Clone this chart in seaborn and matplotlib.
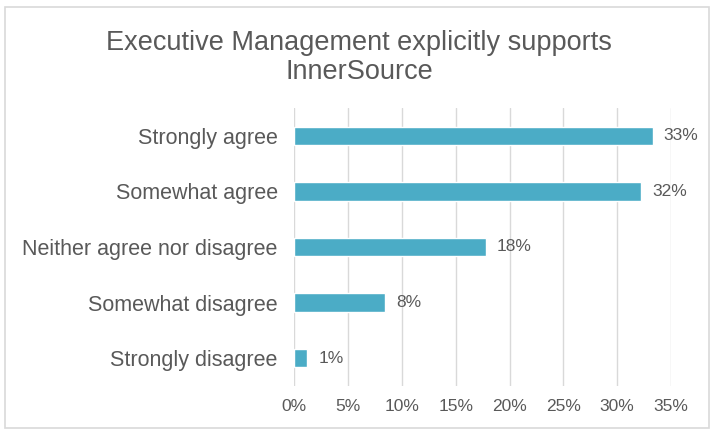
import matplotlib
matplotlib.use("Agg")
import matplotlib.pyplot as plt
import matplotlib.patches as mpatches
import pandas as pd
import seaborn as sns

# data
categories = ["Strongly agree", "Somewhat agree", "Neither agree nor disagree",
              "Somewhat disagree", "Strongly disagree"]
shares = [33.3, 32.2, 17.8, 8.4, 1.2]
labels = ["33%", "32%", "18%", "8%", "1%"]
x_ticks = [0, 5, 10, 15, 20, 25, 30, 35]
title = "Executive Management explicitly supports\nInnerSource"

BAR_COLOR = "#4BACC6"
TEXT_COLOR = "#595959"
GRID_COLOR = "#D9D9D9"

sns.set_theme(style="white")
plt.rcParams["font.family"] = ["Liberation Sans", "DejaVu Sans"]

df = pd.DataFrame({"category": categories, "share": shares})

fig = plt.figure(figsize=(7.18, 4.37), dpi=100)
ax = fig.add_axes([0.41, 0.1167, 0.5245, 0.6362])

sns.barplot(data=df, x="share", y="category", color=BAR_COLOR, width=0.33,
            orient="h", ax=ax, saturation=1)

ax.set_xlim(0, 35)
ax.set_xticks(x_ticks)
ax.set_xticklabels([f"{t}%" for t in x_ticks], fontsize=12.5, color=TEXT_COLOR)
ax.tick_params(axis="y", labelsize=15.5, labelcolor=TEXT_COLOR, length=0, pad=12)
ax.tick_params(axis="x", length=0, pad=9)
ax.set_xlabel("")
ax.set_ylabel("")
ax.grid(axis="x", color=GRID_COLOR, linewidth=1)
ax.set_axisbelow(True)
for s in ax.spines.values():
    s.set_visible(False)

# value labels at bar ends
for i, (v, lab) in enumerate(zip(shares, labels)):
    ax.annotate(lab, (v, i), xytext=(8, 0), textcoords="offset points",
                va="center", ha="left", fontsize=12.5, color=TEXT_COLOR)

fig.text(0.5, 0.868, title, ha="center", va="center", fontsize=19.5,
         color=TEXT_COLOR, linespacing=1.15)

# outer chart frame
frame = mpatches.Rectangle((5 / 718, 1 - 428 / 437), 704 / 718, 421 / 437,
                           transform=fig.transFigure, fill=False,
                           edgecolor=GRID_COLOR, linewidth=1.2)
fig.patches.append(frame)

fig.savefig("out.png", dpi=100)
